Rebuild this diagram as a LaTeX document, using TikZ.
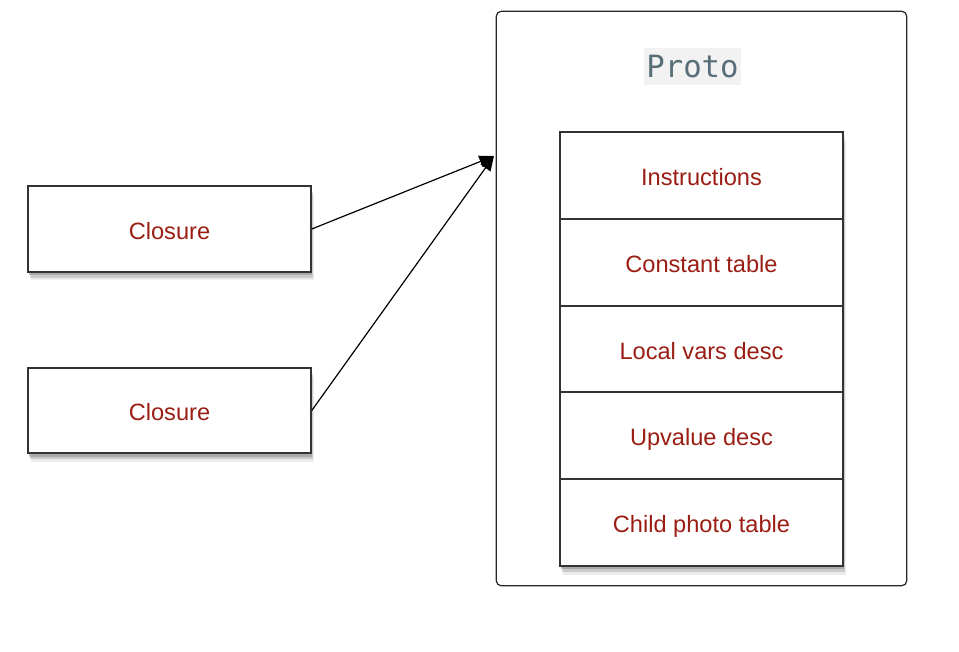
\documentclass[tikz,border=0pt]{standalone}
\usepackage{fontspec}
\setmainfont{Liberation Sans}
\newfontfamily\protofont{DejaVu Sans Mono}
\usetikzlibrary{positioning,shadows,arrows.meta,backgrounds}
\definecolor{labelred}{RGB}{155,30,20}
\definecolor{protogray}{RGB}{88,110,120}
\definecolor{protobg}{RGB}{242,242,242}

\begin{document}
\begin{tikzpicture}[x=0.75pt, y=-0.75pt]
    % Define styles
    \tikzset{
        shadowed/.style={
            drop shadow={shadow xshift=0.8pt, shadow yshift=-2.5pt, opacity=0.45},
            drop shadow={shadow xshift=1.4pt, shadow yshift=-4.5pt, opacity=0.3},
            drop shadow={shadow xshift=2pt, shadow yshift=-6.5pt, opacity=0.15}
        },
        closure/.style={
            draw=black!80,
            line width=1.4pt,
            fill=white,
            shadowed,
            minimum width=212pt,
            minimum height=64pt,
            text height=15pt,
            text depth=0pt,
            text=labelred,
            font=\fontsize{17.7}{20}\selectfont
        },
        frame/.style={
            draw=black!85,
            line width=0.9pt,
            rounded corners=4pt,
            minimum width=308pt,
            minimum height=431pt
        },
        protolabel/.style={
            fill=protobg,
            text=protogray,
            inner sep=1pt,
            minimum width=72.5pt,
            minimum height=27.5pt,
            font=\protofont\fontsize{23}{26}\selectfont
        },
        field/.style={
            draw=black!80,
            line width=1.4pt,
            outer sep=0pt,
            minimum width=212pt,
            minimum height=65.1pt,
            text height=15pt,
            text depth=0pt,
            text=labelred,
            font=\fontsize{17.7}{20}\selectfont
        },
        link/.style={
            line width=0.9pt,
            -{Triangle[length=11pt, width=9pt]}
        }
    }

    % Fix the margins
    \useasboundingbox (0,0) rectangle (959,652);

    % Closures
    \node[closure] (closure1) at (169.5,229) {Closure};
    \node[closure] (closure2) at (169.5,410.5) {Closure};

    % Proto
    \node[frame] (proto) at (701.5,298.5) {};
    \node[protolabel] (title) at (692.5,66.5) {Proto};

    % Proto fields
    \node[field] (instr) at (701.5,175.4) {Instructions};
    \node[field, below=0pt of instr] (consts) {Constant table};
    \node[field, below=0pt of consts] (locals) {Local vars desc};
    \node[field, below=0pt of locals] (upvals) {Upvalue desc};
    \node[field, below=0pt of upvals] (children) {Child photo table};
    \begin{scope}[on background layer]
        \path[fill=white, shadowed] (instr.north west) rectangle (children.south east);
    \end{scope}

    % Links
    \coordinate (target) at (494,156);
    \draw[link] (closure1.east) -- (target);
    \draw[link] (closure2.east) -- (target);

\end{tikzpicture}
\end{document}
